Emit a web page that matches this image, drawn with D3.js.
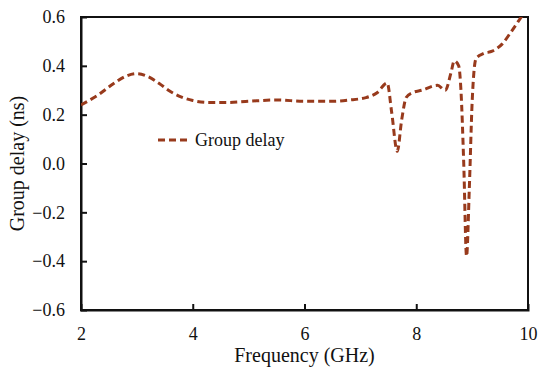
<!DOCTYPE html>
<html>
<head>
<meta charset="utf-8">
<script src="https://cdn.jsdelivr.net/npm/d3@7"></script>
<style>
  body { margin: 0; background: #fff; }
</style>
</head>
<body>
<div id="chart"></div>
<script>
// group delay curve (GHz, ns)
var freq = [2.0, 2.3, 2.6, 2.8, 3.0, 3.2, 3.4, 3.6, 3.8, 4.0, 4.3, 4.6, 5.0, 5.5, 6.0, 6.5, 6.8, 7.1, 7.3, 7.48, 7.56, 7.66, 7.74, 7.82, 7.93, 8.1, 8.38, 8.52, 8.62, 8.68, 8.76, 8.8, 8.85, 8.9, 8.95, 9.0, 9.07, 9.2, 9.36, 9.54, 9.7, 9.88, 10.0];
var delay = [0.24, 0.28, 0.33, 0.357, 0.368, 0.356, 0.328, 0.295, 0.272, 0.258, 0.25, 0.25, 0.255, 0.26, 0.255, 0.255, 0.26, 0.27, 0.29, 0.33, 0.21, 0.05, 0.18, 0.27, 0.29, 0.30, 0.32, 0.30, 0.37, 0.42, 0.40, 0.30, 0.0, -0.38, -0.1, 0.25, 0.43, 0.45, 0.46, 0.49, 0.54, 0.60, 0.64];

var xTicks = [2, 4, 6, 8, 10];
var yTicks = [-0.6, -0.4, -0.2, 0.0, 0.2, 0.4, 0.6];
var seriesName = "Group delay";

var margins = { "left": 81, "right": 22, "top": 17, "bottom": 61 };
var dims = { "width": 550, "height": 371 };
var lineColor = "#983a1c";
var serif = "Liberation Serif";

var svg = d3.select("#chart")
  .append("svg")
  .attr("width", dims.width)
  .attr("height", dims.height);

var x = d3.scaleLinear()
  .domain([2, 10])
  .range([margins.left, dims.width - margins.right]);

var y = d3.scaleLinear()
  .domain([-0.6, 0.6])
  .range([dims.height - margins.bottom, margins.top]);

svg.append("clipPath")
  .attr("id", "plotclip")
  .append("rect")
  .attr("x", x(2))
  .attr("y", y(0.6))
  .attr("width", x(10) - x(2))
  .attr("height", y(-0.6) - y(0.6));

// frame
svg.append("rect")
  .attr("x", x(2))
  .attr("y", y(0.6))
  .attr("width", x(10) - x(2))
  .attr("height", y(-0.6) - y(0.6))
  .attr("fill", "none")
  .attr("stroke", "#111")
  .attr("stroke-width", 2);

// x axis, ticks inward
var xAxis = svg.append("g")
  .attr("transform", "translate(0," + y(-0.6) + ")")
  .call(d3.axisBottom(x).tickValues(xTicks).tickSize(-6).tickPadding(17).tickFormat(d3.format("d")));

// y axis, ticks inward
var yAxis = svg.append("g")
  .attr("transform", "translate(" + x(2) + ",0)")
  .call(d3.axisLeft(y).tickValues(yTicks).tickSize(-6).tickPadding(16).tickFormat(d3.format(".1f")));

[xAxis, yAxis].forEach(function(g) {
  g.attr("font-family", serif).attr("font-size", 18);
  g.select(".domain").attr("stroke", "#111").attr("stroke-width", 2);
  g.selectAll(".tick line").attr("stroke", "#111").attr("stroke-width", 2);
  g.selectAll(".tick text").attr("fill", "#111");
});

// hide tick marks that fall on the frame corners
xAxis.selectAll(".tick").filter(function(d) { return d === 2 || d === 10; }).select("line").remove();
yAxis.selectAll(".tick").filter(function(d) { return d === -0.6 || d === 0.6; }).select("line").remove();

var line = d3.line()
  .x(function(d, i) { return x(freq[i]); })
  .y(function(d) { return y(d); })
  .curve(d3.curveMonotoneX);

svg.append("path")
  .datum(delay)
  .attr("clip-path", "url(#plotclip)")
  .attr("d", line)
  .attr("fill", "none")
  .attr("stroke", lineColor)
  .attr("stroke-width", 3)
  .attr("stroke-dasharray", "7,4");

// legend
svg.append("line")
  .attr("x1", 158).attr("x2", 190)
  .attr("y1", 140).attr("y2", 140)
  .attr("stroke", lineColor)
  .attr("stroke-width", 3)
  .attr("stroke-dasharray", "7,4");

svg.append("text")
  .attr("x", 195)
  .attr("y", 146)
  .attr("font-family", serif)
  .attr("font-size", 18)
  .attr("fill", "#111")
  .text(seriesName);

// axis titles
svg.append("text")
  .attr("x", (x(2) + x(10)) / 2)
  .attr("y", 362)
  .attr("text-anchor", "middle")
  .attr("font-family", serif)
  .attr("font-size", 20)
  .attr("fill", "#111")
  .text("Frequency (GHz)");

svg.append("text")
  .attr("transform", "translate(24," + y(0) + ") rotate(-90)")
  .attr("text-anchor", "middle")
  .attr("font-family", serif)
  .attr("font-size", 20)
  .attr("fill", "#111")
  .text("Group delay (ns)");
</script>
</body>
</html>
